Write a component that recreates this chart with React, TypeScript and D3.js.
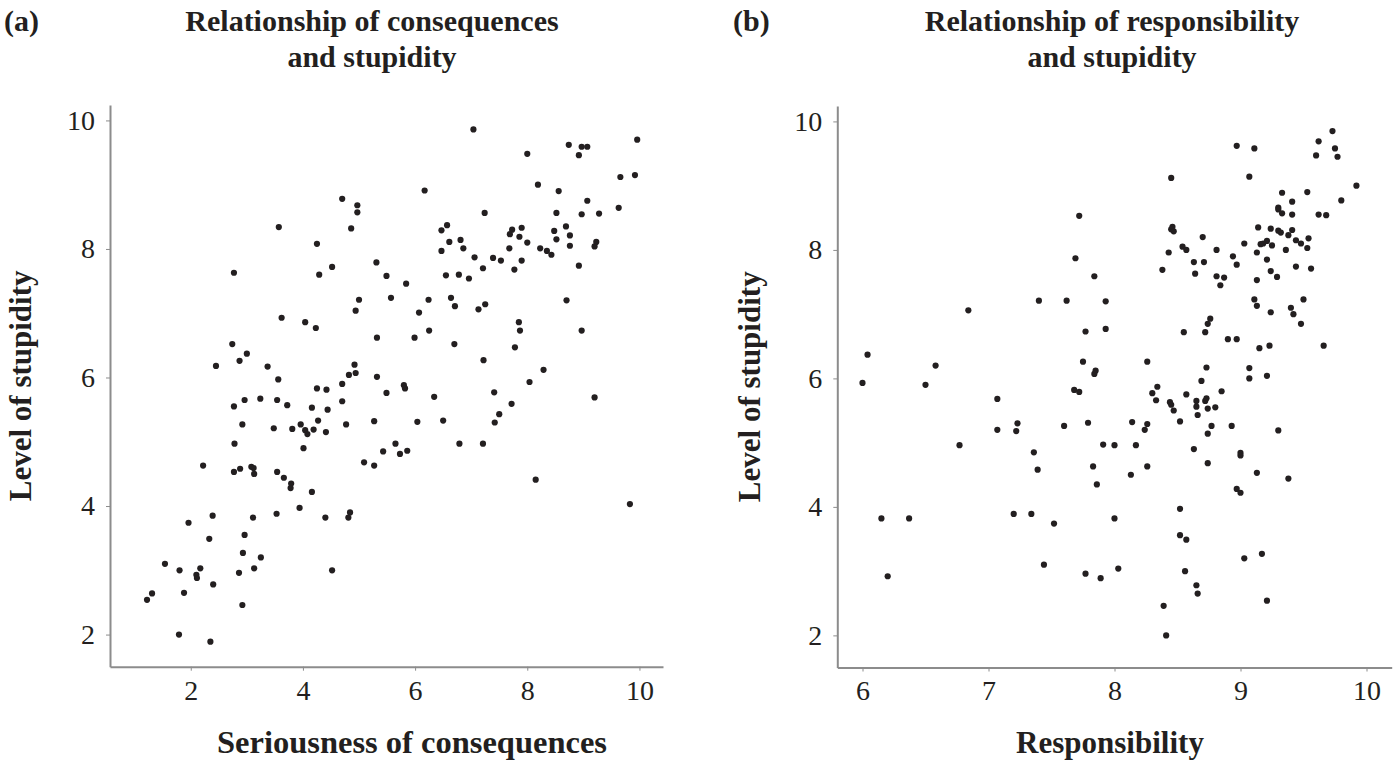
import React, { useEffect, useRef } from "react";
import * as d3 from "d3";

// panel (a): seriousness of consequences vs level of stupidity
const consequencesX = [
  4.70, 4.97, 4.97, 3.57, 4.86, 4.25, 2.77, 4.29, 4.52, 5.31, 5.49, 5.57, 5.00, 4.94, 3.62, 4.04, 4.23, 5.32, 2.74, 3.00,
  2.87, 2.45, 3.37, 4.92, 4.82, 4.94, 5.32, 3.56, 4.70, 4.25, 4.42,
  5.49, 2.77, 2.96, 3.24, 3.54, 3.72, 4.16, 4.44, 4.70, 2.92, 3.48, 3.81, 3.96, 4.04, 4.08, 4.19, 4.27, 4.41, 4.77, 5.27,
  2.78, 4.01, 5.43, 5.09, 5.27, 2.22, 2.77, 2.88, 3.08, 3.12, 3.13, 3.54, 3.66, 3.79, 3.78, 4.16, 2.39, 1.96, 3.11, 3.53,
  3.94, 4.40, 4.84, 4.81, 2.33, 2.96, 2.93, 3.25, 1.54, 1.80, 2.17, 2.10, 2.11, 2.86, 3.13, 4.52, 2.40, 1.88, 1.31, 1.22,
  2.92, 1.79, 2.35,
  7.04, 9.96, 8.74, 8.97, 9.07, 8.92, 8.00, 9.66, 9.92, 8.19, 8.56, 6.17, 9.07, 9.63, 7.24, 8.52, 8.97, 9.28, 6.57, 6.47,
  7.73, 7.69, 7.90, 7.86, 8.00, 8.48, 8.69, 8.52, 8.76, 8.76, 9.23, 9.20, 6.61, 6.81, 6.86, 6.47, 7.68, 8.23, 8.35, 8.43,
  7.06, 7.39, 7.53, 7.90, 7.21, 7.77, 8.92, 6.55, 6.78, 6.96, 5.84, 6.24, 6.64, 6.71, 7.13, 7.25, 8.70, 6.07, 5.99, 6.25,
  6.70, 7.85, 7.87, 8.97, 7.78, 7.22, 8.29, 8.04, 5.80, 5.82, 7.41,
  6.34, 9.20, 7.72, 7.50, 6.04, 6.50, 7.42, 5.65, 5.73, 5.86, 6.79, 7.21, 8.15, 9.83,
];
const consequencesStupidity = [
  8.78, 8.68, 8.57, 8.34, 8.32, 8.08, 7.63, 7.60, 7.72, 7.79, 7.58, 7.24, 7.21, 7.04, 6.93, 6.86, 6.77, 6.62, 6.52, 6.37,
  6.26, 6.18, 6.17, 6.20, 6.04, 6.07, 6.01, 5.97, 5.90, 5.83, 5.81,
  5.76, 5.55, 5.65, 5.67, 5.65, 5.57, 5.53, 5.50, 5.63, 5.27, 5.21, 5.20, 5.27, 5.18, 5.12, 5.19, 5.33, 5.15, 5.27, 5.32,
  4.97, 4.90, 4.85, 4.68, 4.63, 4.63, 4.53, 4.58, 4.61, 4.59, 4.50, 4.53, 4.44, 4.35, 4.28, 4.22, 3.85, 3.74, 3.82, 3.88,
  3.97, 3.82, 3.90, 3.82, 3.49, 3.55, 3.27, 3.20, 3.10, 3.00, 3.03, 2.93, 2.88, 2.96, 3.03, 3.00, 2.78, 2.65, 2.64, 2.54,
  2.46, 2.00, 1.89,
  9.86, 9.70, 9.62, 9.59, 9.59, 9.46, 9.48, 9.12, 9.15, 9.00, 8.90, 8.91, 8.75, 8.64, 8.56, 8.56, 8.54, 8.55, 8.37, 8.29,
  8.30, 8.23, 8.33, 8.19, 8.10, 8.28, 8.35, 8.15, 8.21, 8.05, 8.11, 8.04, 8.11, 8.14, 8.01, 7.97, 8.01, 8.01, 7.97, 7.91,
  7.87, 7.86, 7.82, 7.82, 7.70, 7.68, 7.74, 7.59, 7.60, 7.54, 7.46, 7.21, 7.24, 7.11, 7.06, 7.14, 7.20, 7.01, 6.62, 6.73,
  6.52, 6.86, 6.73, 6.73, 6.47, 6.27, 6.12, 5.93, 5.88, 5.83, 5.77,
  5.70, 5.69, 5.59, 5.43, 5.31, 5.33, 5.30, 4.97, 4.81, 4.86, 4.97, 4.97, 4.41, 4.03,
];

// panel (b): responsibility vs level of stupidity
const responsibilityX = [
  7.72, 7.69, 7.84, 7.40, 7.62, 7.93, 6.84, 7.77, 7.93, 7.75, 6.04, 6.58, 7.85, 7.84, 6.00, 6.50,
  7.68, 7.72, 7.07, 7.23, 7.07, 7.22, 7.60, 7.79, 6.77, 7.36, 7.39, 7.91, 8.00, 7.83, 7.86, 6.15, 6.37, 7.20, 7.34, 7.52,
  8.00, 6.20, 7.44, 7.77, 7.89, 8.03,
  9.73, 9.62, 9.75, 9.60, 9.77, 8.97, 9.11, 9.07, 8.45, 9.92, 9.33, 9.53, 9.80, 9.41, 9.30, 9.30, 9.33, 9.41, 9.62, 9.68,
  8.46, 8.45, 8.47, 8.70, 9.14, 9.24, 9.30, 9.32, 9.41, 9.38, 9.54, 9.44, 9.48, 9.53, 9.21, 9.18, 9.16, 9.25, 9.03, 9.36,
  8.54, 8.57, 8.81, 8.43, 9.13, 8.94, 9.21, 8.63, 8.71, 8.97, 9.44, 9.56, 8.38, 8.64, 9.24, 8.81, 8.87, 8.84, 9.29, 9.13,
  9.11, 9.13, 9.24, 9.50, 9.40, 9.42, 9.48, 8.76, 8.74, 8.72, 8.55, 8.90, 8.97, 9.15, 9.23, 9.66, 8.26, 8.73, 9.07, 8.69,
  9.07, 9.21, 8.34, 8.85,
  8.30, 8.57, 8.33, 8.44, 8.45, 8.47, 8.65, 8.65, 8.72, 8.73, 8.74, 8.80, 8.66, 8.52, 8.14, 8.26, 8.24, 8.77, 8.93, 8.74,
  9.30, 8.17, 8.63, 9.00, 9.00, 8.26, 8.13, 8.74, 9.13, 9.38, 8.97, 9.00, 8.52, 8.52, 8.57, 9.03, 9.17, 8.56, 8.65, 8.66,
  9.21, 8.39, 8.41,
];
const responsibilityStupidity = [
  8.53, 7.87, 7.59, 7.21, 7.21, 7.20, 7.06, 6.73, 6.77, 6.26, 6.37, 6.20, 6.12, 6.07, 5.93, 5.90,
  5.82, 5.79, 5.68, 5.30, 5.20, 5.18, 5.26, 5.31, 4.96, 4.85, 4.58, 4.97, 4.96, 4.63, 4.35, 3.82, 3.82, 3.89, 3.89, 3.74,
  3.82, 2.92, 3.10, 2.96, 2.89, 3.04,
  9.85, 9.69, 9.58, 9.47, 9.45, 9.62, 9.58, 9.14, 9.12, 9.00, 8.89, 8.90, 8.77, 8.75, 8.66, 8.63, 8.57, 8.55, 8.55, 8.54,
  8.36, 8.32, 8.29, 8.20, 8.35, 8.33, 8.30, 8.27, 8.31, 8.23, 8.18, 8.15, 8.10, 8.03, 8.14, 8.10, 8.09, 8.07, 8.10, 8.00,
  8.05, 8.00, 8.00, 7.96, 7.96, 7.90, 7.85, 7.81, 7.81, 7.77, 7.74, 7.71, 7.69, 7.63, 7.67, 7.59, 7.57, 7.45, 7.58, 7.53,
  7.23, 7.13, 7.03, 7.23, 7.10, 7.00, 6.85, 6.93, 6.85, 6.72, 6.72, 6.61, 6.61, 6.47, 6.51, 6.51, 6.26, 6.17, 6.16, 5.96,
  6.00, 6.04, 5.87, 5.80,
  5.77, 5.75, 5.66, 5.63, 5.59, 5.50, 5.65, 5.56, 5.65, 5.69, 5.53, 5.55, 5.43, 5.33, 5.32, 5.29, 5.20, 5.26, 5.26, 5.14,
  5.19, 4.96, 4.90, 4.84, 4.80, 4.63, 4.50, 4.68, 4.53, 4.44, 4.28, 4.22, 3.97, 3.56, 3.49, 3.20, 3.27, 3.00, 2.78, 2.65,
  2.54, 2.46, 2.00,
];

const yTicks = [2, 4, 6, 8, 10];
const consequencesTicks = [2, 4, 6, 8, 10];
const responsibilityTicks = [6, 7, 8, 9, 10];

const SERIF = "'Liberation Serif', 'Times New Roman', serif";

const App = () => {
  const svgRef = useRef<SVGSVGElement>(null);

  useEffect(() => {
    const svg = d3.select(svgRef.current);
    svg.selectAll("*").remove();

    const drawPanel = (opts: any) => {
      const { xs, ys, xDomain, xRange, yRange, xTicks, tag, tagX, title, titleX, xLabel, xLabelX, xLabelSize, yLabelX } = opts;
      const x = d3.scaleLinear().domain(xDomain).range(xRange);
      const y = d3.scaleLinear().domain([1.5, 10.24]).range(yRange);
      const g = svg.append("g");

      // Y Axis
      const yAxis = g.append("g")
        .attr("transform", `translate(${xRange[0]},0)`)
        .call(d3.axisLeft(y).tickValues(yTicks).tickFormat(d3.format("d")).tickSize(4).tickSizeOuter(0).tickPadding(11));
      // X Axis
      const xAxis = g.append("g")
        .attr("transform", `translate(0,${yRange[0]})`)
        .call(d3.axisBottom(x).tickValues(xTicks).tickFormat(d3.format("d")).tickSize(4).tickSizeOuter(0).tickPadding(9));

      [yAxis, xAxis].forEach(ax => {
        ax.select(".domain").attr("stroke", "#8c8c8c").attr("stroke-width", 2);
        ax.selectAll(".tick line").attr("stroke", "#8c8c8c").attr("stroke-width", 1);
        ax.selectAll("text")
          .style("font-family", SERIF)
          .style("font-size", "28px")
          .attr("fill", "#231f20");
      });

      // Points
      g.selectAll(".dot")
        .data(xs.map((v: number, i: number) => [v, ys[i]]))
        .enter()
        .append("circle")
        .attr("cx", (d: number[]) => x(d[0]))
        .attr("cy", (d: number[]) => y(d[1]))
        .attr("r", 3.1)
        .attr("fill", "#231f20");

      const bold = (sel: any) => sel
        .style("font-family", SERIF)
        .style("font-weight", "bold")
        .attr("fill", "#231f20");

      // Panel tag and title
      bold(g.append("text").attr("x", tagX).attr("y", 31).style("font-size", "30px").text(tag));
      title.forEach((line: string, i: number) => {
        bold(g.append("text")
          .attr("x", titleX)
          .attr("y", 31 + i * 36)
          .attr("text-anchor", "middle")
          .style("font-size", "30px")
          .text(line));
      });

      // Axis titles
      bold(g.append("text")
        .attr("x", xLabelX)
        .attr("y", 753)
        .attr("text-anchor", "middle")
        .style("font-size", xLabelSize)
        .text(xLabel));
      bold(g.append("text")
        .attr("transform", `translate(${yLabelX},${(yRange[0] + yRange[1]) / 2}) rotate(-90)`)
        .attr("text-anchor", "middle")
        .style("font-size", "31px")
        .text("Level of stupidity"));
    };

    drawPanel({
      xs: consequencesX,
      ys: consequencesStupidity,
      xDomain: [0.56, 10.42],
      xRange: [110, 663],
      yRange: [666.7, 105],
      xTicks: consequencesTicks,
      tag: "(a)",
      tagX: 4,
      title: ["Relationship of consequences", "and stupidity"],
      titleX: 372,
      xLabel: "Seriousness of consequences",
      xLabelX: 412,
      xLabelSize: "32.5px",
      yLabelX: 31,
    });

    drawPanel({
      xs: responsibilityX,
      ys: responsibilityStupidity,
      xDomain: [5.8, 10.2],
      xRange: [837.3, 1391.7],
      yRange: [667.5, 106],
      xTicks: responsibilityTicks,
      tag: "(b)",
      tagX: 733,
      title: ["Relationship of responsibility", "and stupidity"],
      titleX: 1112,
      xLabel: "Responsibility",
      xLabelX: 1110,
      xLabelSize: "31px",
      yLabelX: 760,
    });
  }, []);

  return (
    <svg
      ref={svgRef}
      width={1394}
      height={761}
      style={{ position: "absolute", left: 0, top: 0, background: "#fff" }}
    />
  );
};

export default App;
